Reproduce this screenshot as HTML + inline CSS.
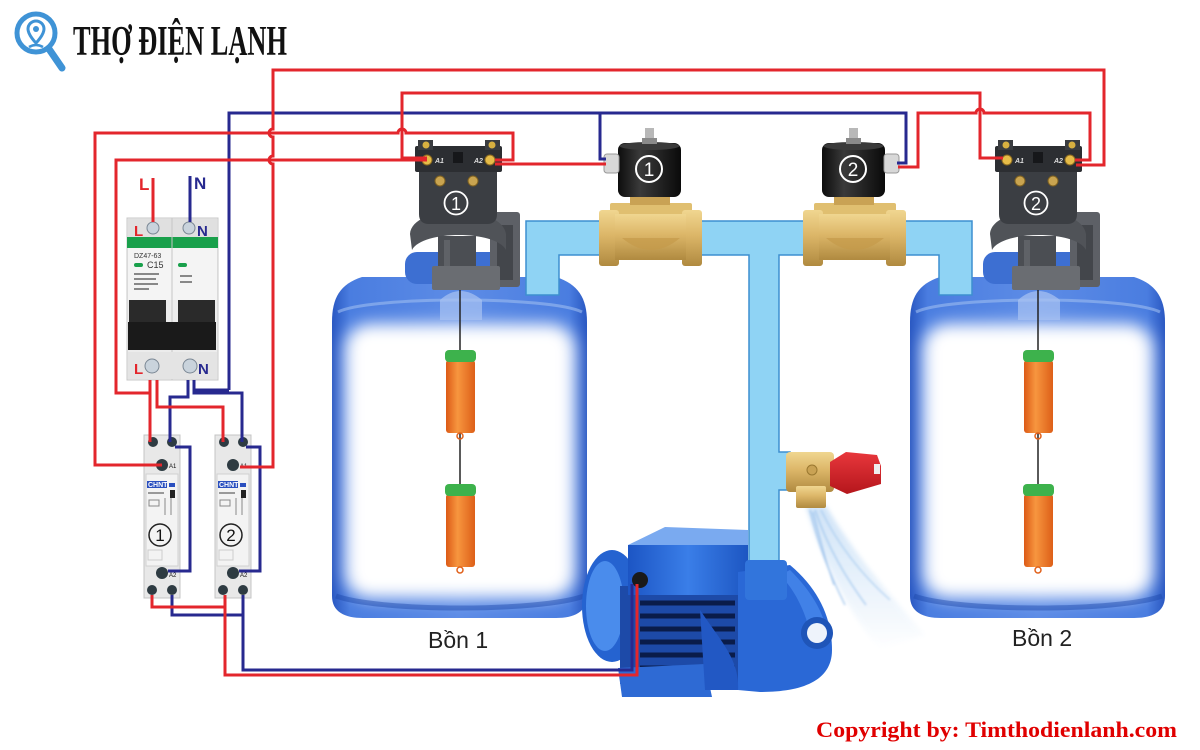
<!DOCTYPE html>
<html><head><meta charset="utf-8">
<style>
html,body{margin:0;padding:0;background:#fff;}
svg{display:block;}
</style></head><body>
<svg width="1200" height="750" viewBox="0 0 1200 750" xmlns="http://www.w3.org/2000/svg">
<defs>
 <filter id="blur8" x="-20%" y="-20%" width="140%" height="140%"><feGaussianBlur stdDeviation="8"/></filter>
 <filter id="blur3" x="-20%" y="-20%" width="140%" height="140%"><feGaussianBlur stdDeviation="2.5"/></filter>
 <filter id="blur1" x="-20%" y="-20%" width="140%" height="140%"><feGaussianBlur stdDeviation="1"/></filter>
 <linearGradient id="tankG" x1="0" x2="1" y1="0" y2="0">
   <stop offset="0" stop-color="#2a58c2"/>
   <stop offset="0.07" stop-color="#4a7de0"/>
   <stop offset="0.5" stop-color="#5d8ce6"/>
   <stop offset="0.93" stop-color="#4a7de0"/>
   <stop offset="1" stop-color="#2a58c2"/>
 </linearGradient>
 <linearGradient id="brass" x1="0" x2="0" y1="0" y2="1">
   <stop offset="0" stop-color="#f0d690"/>
   <stop offset="0.45" stop-color="#dcb668"/>
   <stop offset="1" stop-color="#b08a40"/>
 </linearGradient>
 <linearGradient id="orange" x1="0" x2="1">
   <stop offset="0" stop-color="#dc5a16"/><stop offset="0.4" stop-color="#f7963f"/><stop offset="1" stop-color="#dd5f18"/>
 </linearGradient>
 <linearGradient id="coilG" x1="0" x2="1">
   <stop offset="0" stop-color="#0d0d0d"/><stop offset="0.35" stop-color="#3a3a3a"/><stop offset="1" stop-color="#0a0a0a"/>
 </linearGradient>
 <linearGradient id="redCap" x1="0" x2="0" y1="0" y2="1">
   <stop offset="0" stop-color="#e8373c"/><stop offset="1" stop-color="#b5161c"/>
 </linearGradient>
 <linearGradient id="sprayG" x1="0" x2="0" y1="0" y2="1">
   <stop offset="0" stop-color="#bcd8f4"/><stop offset="1" stop-color="#ffffff"/>
 </linearGradient>
 <linearGradient id="pumpG" x1="0" x2="1" y1="0" y2="0">
   <stop offset="0" stop-color="#1c55c4"/><stop offset="0.5" stop-color="#3a7ee8"/><stop offset="1" stop-color="#1d56c2"/>
 </linearGradient>

 <g id="tank">
  <path d="M332,322 C332,298 340,284 362,277 L556,277 C578,284 587,298 587,322 L587,596 C587,612 574,618 556,618 L363,618 C345,618 332,612 332,596 Z" fill="url(#tankG)"/>
  <rect x="405" y="252" width="105" height="32" rx="12" fill="#3d6fd2"/>
  <path d="M338,312 C370,296 550,296 582,312" fill="none" stroke="#9dbcf0" stroke-width="3" opacity="0.6"/>
  <rect x="345" y="324" width="230" height="274" rx="25" fill="#fff" filter="url(#blur8)"/>
  <path d="M440,320 L440,300 Q460,282 482,300 L482,320 Z" fill="#a9c3f2" opacity="0.7"/>
  <path d="M336,596 C380,612 540,612 584,596" stroke="#1d46a8" stroke-width="5" fill="none" opacity="0.45"/>
  <line x1="460" y1="288" x2="460" y2="352" stroke="#222" stroke-width="1.5"/>
  <line x1="460" y1="432" x2="460" y2="486" stroke="#222" stroke-width="1.5"/>
  <rect x="446" y="360" width="29" height="73" rx="3" fill="url(#orange)"/>
  <rect x="445" y="350" width="31" height="12" rx="4" fill="#3db24c"/>
  <circle cx="460" cy="436" r="3" fill="none" stroke="#e0601a" stroke-width="1.5"/>
  <rect x="446" y="494" width="29" height="73" rx="3" fill="url(#orange)"/>
  <rect x="445" y="484" width="31" height="12" rx="4" fill="#3db24c"/>
  <circle cx="460" cy="570" r="3" fill="none" stroke="#e0601a" stroke-width="1.5"/>
 </g>

 <g id="psw">
  <rect x="490" y="212" width="30" height="75" rx="3" fill="#5d6066"/>
  <rect x="497" y="225" width="16" height="55" fill="#43464b"/>
  <path d="M410,234 C412,204 502,204 506,234 L506,250 C496,230 422,230 412,250 Z" fill="#505358"/>
  <rect x="438" y="236" width="38" height="36" fill="#4b4e53"/>
  <rect x="444" y="240" width="6" height="30" fill="#5f6267"/>
  <rect x="432" y="266" width="68" height="24" rx="2" fill="#6a6d72"/>
  <path d="M419,170 L497,170 L497,214 Q497,224 487,224 L429,224 Q419,224 419,214 Z" fill="#3b3e43"/>
  <rect x="415" y="146" width="87" height="26" rx="2" fill="#2c2e32"/>
  <rect x="418" y="140" width="15" height="10" fill="#3a3c40"/>
  <rect x="485" y="140" width="15" height="10" fill="#3a3c40"/>
  <circle cx="426" cy="145" r="3.5" fill="#d8b040"/>
  <circle cx="492" cy="145" r="3.5" fill="#d8b040"/>
  <circle cx="427" cy="160" r="5" fill="#e6bc48" stroke="#8a6a20"/>
  <circle cx="490" cy="160" r="5" fill="#e6bc48" stroke="#8a6a20"/>
  <rect x="453" y="152" width="10" height="11" fill="#16171a"/>
  <circle cx="440" cy="181" r="5" fill="#c9a450" stroke="#7d6020"/>
  <circle cx="473" cy="181" r="5" fill="#c9a450" stroke="#7d6020"/>
  <circle cx="456" cy="203" r="11.5" fill="none" stroke="#fff" stroke-width="1.8"/>
 </g>

 <g id="valve">
  <rect x="610" y="203" width="82" height="11" rx="2" fill="#e0bf70"/>
  <rect x="630" y="194" width="40" height="11" fill="#c9a254"/>
  <rect x="599" y="210" width="20" height="56" rx="3" fill="url(#brass)"/>
  <rect x="682" y="210" width="20" height="56" rx="3" fill="url(#brass)"/>
  <rect x="615" y="214" width="71" height="46" fill="url(#brass)"/>
  <path d="M622,238 Q651,262 680,238" fill="#c49a4a" opacity="0.7"/>
  <rect x="618" y="143" width="63" height="54" rx="7" fill="url(#coilG)"/>
  <ellipse cx="649.5" cy="146" rx="30" ry="4" fill="#3a3a3a"/>
  <rect x="645" y="128" width="9" height="16" fill="#b8b8b8"/>
  <rect x="642" y="138" width="15" height="6" fill="#8a8a8a"/>
  <circle cx="649" cy="169" r="13" fill="none" stroke="#fff" stroke-width="2"/>
 </g>

 <g id="contactor">
  <rect x="144" y="435" width="36" height="163" fill="#e8e8e8" stroke="#c4c4c4"/>
  <rect x="146" y="474" width="32" height="92" fill="#f3f3f3" stroke="#d0d0d0"/>
  <circle cx="153" cy="442" r="5" fill="#2e3b42"/>
  <circle cx="172" cy="442" r="5" fill="#2e3b42"/>
  <circle cx="162" cy="465" r="6" fill="#2e3b42"/>
  <rect x="147" y="481" width="20" height="7" fill="#2a4fbf"/>
  <rect x="169" y="483" width="6" height="4" fill="#2a4fbf"/>
  <rect x="148" y="492" width="16" height="2" fill="#999"/>
  <rect x="170" y="490" width="5" height="8" fill="#222"/>
  <rect x="149" y="500" width="10" height="6" fill="none" stroke="#888"/>
  <line x1="165" y1="498" x2="165" y2="515" stroke="#888"/>
  <line x1="171" y1="498" x2="171" y2="515" stroke="#888"/>
  <rect x="148" y="550" width="14" height="10" fill="none" stroke="#ccc"/>
  <circle cx="162" cy="573" r="6" fill="#2e3b42"/>
  <circle cx="152" cy="590" r="5" fill="#2e3b42"/>
  <circle cx="172" cy="590" r="5" fill="#2e3b42"/>
 </g>
</defs>

<!-- Logo -->
<g fill="none" stroke="#3f93d6">
 <circle cx="36" cy="33" r="19" stroke-width="5"/>
 <line x1="49" y1="49" x2="62" y2="68" stroke-width="7" stroke-linecap="round"/>
 <path d="M36,21 a8,8 0 0 1 8,8 c0,6 -8,14 -8,14 c0,0 -8,-8 -8,-14 a8,8 0 0 1 8,-8z" stroke-width="3"/>
 <path d="M29,47 q7,-4 14,0" stroke-width="2.5"/>
</g>
<circle cx="36" cy="29" r="3" fill="#3f93d6"/>
<text x="73" y="55" font-family="Liberation Serif, serif" font-weight="bold" font-size="42" fill="#111" textLength="214" lengthAdjust="spacingAndGlyphs">THỢ ĐIỆN LẠNH</text>

<!-- Tanks -->
<use href="#tank"/>
<use href="#tank" transform="translate(578,0)"/>

<!-- Pipes -->
<path d="M526,295 L526,221 L972,221 L972,295 L939,295 L939,255 L779,255 L779,452 L790,452 L790,490 L779,490 L779,572 L749,572 L749,255 L559,255 L559,295 Z" fill="#8fd3f4" stroke="#3d8fd0" stroke-width="1.5"/>

<!-- Pressure switches -->
<use href="#psw"/>
<use href="#psw" transform="translate(580,0)"/>
<text x="456" y="210" font-family="Liberation Sans, sans-serif" font-size="18" fill="#fff" text-anchor="middle">1</text>
<text x="1036" y="210" font-family="Liberation Sans, sans-serif" font-size="18" fill="#fff" text-anchor="middle">2</text>
<g font-family="Liberation Sans, sans-serif" font-size="7" font-style="italic" font-weight="bold" fill="#ddd">
 <text x="435" y="163">A1</text><text x="474" y="163">A2</text>
 <text x="1015" y="163">A1</text><text x="1054" y="163">A2</text>
</g>

<!-- Solenoid valves -->
<use href="#valve"/>
<use href="#valve" transform="translate(204,0)"/>
<rect x="604" y="154" width="15" height="19" rx="3" fill="#d8d8d8" stroke="#999"/>
<rect x="884" y="154" width="15" height="19" rx="3" fill="#d8d8d8" stroke="#999"/>
<text x="649" y="176" font-family="Liberation Sans, sans-serif" font-size="19" fill="#fff" text-anchor="middle">1</text>
<text x="853" y="176" font-family="Liberation Sans, sans-serif" font-size="19" fill="#fff" text-anchor="middle">2</text>

<!-- Relief valve + spray -->
<g filter="url(#blur3)" opacity="0.7">
 <path d="M806,506 L826,506 C855,555 890,595 925,635 L880,650 C850,615 822,560 806,506 Z" fill="url(#sprayG)"/>
</g>
<g filter="url(#blur1)" opacity="0.6" fill="none">
 <path d="M810,510 C818,545 830,575 845,605" stroke="#7fb0e6" stroke-width="1.5"/>
 <path d="M815,510 C828,548 846,578 866,605" stroke="#8cbaea" stroke-width="1.5"/>
 <path d="M821,510 C838,545 862,575 890,600" stroke="#9cc4ee" stroke-width="1.5"/>
 <path d="M813,512 C820,540 826,562 834,585" stroke="#6aa2e0" stroke-width="1.2"/>
</g>
<rect x="786" y="452" width="48" height="40" rx="4" fill="url(#brass)"/>
<rect x="796" y="486" width="30" height="22" rx="2" fill="url(#brass)"/>
<circle cx="812" cy="470" r="5" fill="#c9a254" stroke="#9a7830"/>
<path d="M830,462 L846,452 L877,455 L881,466 L881,484 L847,494 L830,486 Z" fill="url(#redCap)"/>
<rect x="874" y="464" width="6" height="10" fill="#eee"/>

<!-- Pump -->
<ellipse cx="612" cy="606" rx="30" ry="56" fill="#2563d0"/>
<ellipse cx="605" cy="606" rx="19" ry="45" fill="#4a8cec"/>
<rect x="620" y="586" width="120" height="98" fill="#1d4aa8"/>
<g stroke="#0a1c4a" stroke-width="5">
 <line x1="640" y1="603" x2="735" y2="603"/><line x1="640" y1="616" x2="735" y2="616"/>
 <line x1="640" y1="629" x2="735" y2="629"/><line x1="640" y1="642" x2="735" y2="642"/>
 <line x1="640" y1="655" x2="735" y2="655"/><line x1="640" y1="668" x2="735" y2="668"/>
</g>
<path d="M618,668 L705,664 L712,697 L622,697 Z" fill="#2e6ad4"/>
<path d="M628,545 L665,527 L748,530 L748,548 Z" fill="#7aaaf0"/>
<rect x="628" y="545" width="120" height="50" fill="url(#pumpG)"/>
<path d="M738,572 L790,565 C820,590 832,620 832,650 C832,682 800,692 760,692 L738,690 Z" fill="#2a68d6"/>
<path d="M790,570 C812,592 826,615 828,640 L812,640 C806,612 795,590 780,575 Z" fill="#4b8cee" opacity="0.7"/>
<path d="M700,610 C720,640 740,660 738,690 L705,690 Z" fill="#2258c4"/>
<rect x="745" y="560" width="42" height="40" rx="4" fill="#3275dc"/>
<circle cx="817" cy="633" r="16" fill="#1f55b8"/>
<circle cx="817" cy="633" r="10" fill="#eef3fb"/>
<circle cx="640" cy="580" r="8" fill="#1a1a1a"/>

<!-- Breaker -->
<rect x="127" y="218" width="91" height="162" fill="#ececec" stroke="#c8c8c8"/>
<rect x="128" y="219" width="89" height="18" fill="#e0e0e0"/>
<rect x="127" y="237" width="91" height="11" fill="#19a04b"/>
<rect x="128" y="248" width="89" height="52" fill="#f4f4f4"/>
<line x1="172" y1="218" x2="172" y2="380" stroke="#c6c6c6"/>
<text x="134" y="258" font-family="Liberation Sans, sans-serif" font-size="7" fill="#333">DZ47-63</text>
<rect x="134" y="263" width="9" height="4" rx="2" fill="#19a04b"/>
<text x="147" y="268" font-family="Liberation Sans, sans-serif" font-size="9" fill="#333">C15</text>
<rect x="178" y="263" width="9" height="4" rx="2" fill="#19a04b"/>
<g fill="#888"><rect x="134" y="273" width="25" height="2"/><rect x="134" y="278" width="22" height="2"/><rect x="134" y="283" width="24" height="2"/><rect x="134" y="288" width="15" height="2"/><rect x="180" y="275" width="12" height="2"/><rect x="180" y="281" width="12" height="2"/></g>
<rect x="129" y="300" width="37" height="25" fill="#2a2a2a"/>
<rect x="178" y="300" width="37" height="25" fill="#2a2a2a"/>
<path d="M128,322 L216,322 L216,350 L128,350 Z" fill="#1a1a1a"/>
<rect x="128" y="352" width="89" height="27" fill="#e4e4e4"/>
<circle cx="153" cy="228" r="6" fill="#c9d3dc" stroke="#7a8794"/>
<circle cx="189" cy="228" r="6" fill="#c9d3dc" stroke="#7a8794"/>
<circle cx="152" cy="366" r="7" fill="#c9d3dc" stroke="#7a8794"/>
<circle cx="190" cy="366" r="7" fill="#c9d3dc" stroke="#7a8794"/>
<g font-family="Liberation Sans, sans-serif" font-weight="bold">
 <text x="139" y="190" font-size="17" fill="#e3262c">L</text>
 <text x="194" y="189" font-size="17" fill="#27298f">N</text>
 <text x="134" y="236" font-size="15" fill="#e3262c">L</text>
 <text x="197" y="236" font-size="15" fill="#27298f">N</text>
 <text x="134" y="374" font-size="15" fill="#e3262c">L</text>
 <text x="198" y="374" font-size="15" fill="#27298f">N</text>
</g>

<!-- Contactors -->
<use href="#contactor"/>
<use href="#contactor" transform="translate(71,0)"/>
<g font-family="Liberation Sans, sans-serif" fill="#111">
 <text x="169" y="468" font-size="6">A1</text><text x="240" y="468" font-size="6">A1</text>
 <text x="169" y="577" font-size="6">A2</text><text x="240" y="577" font-size="6">A2</text>
 <text x="160" y="541" font-size="17" text-anchor="middle">1</text>
 <text x="231" y="541" font-size="17" text-anchor="middle">2</text>
</g>
<circle cx="160" cy="535" r="11" fill="none" stroke="#222" stroke-width="1.5"/>
<circle cx="231" cy="535" r="11" fill="none" stroke="#222" stroke-width="1.5"/>
<g font-family="Liberation Sans, sans-serif" font-weight="bold" font-size="7" fill="#fff">
 <text x="148" y="487">CHNT</text><text x="219" y="487">CHNT</text>
</g>

<!-- Wires -->
<g fill="none" stroke-width="3" stroke-linejoin="miter">
 <g stroke="#27298f">
  <path d="M190,176 L190,222"/>
  <path d="M229,390 L229,113 L906,113 L906,163 L897,163"/>
  <path d="M600,113 L600,159 L606,159"/>
  <path d="M229,390 L194,390 L194,380"/>
  <path d="M188,380 L188,397 L170,397 L170,442"/>
  <path d="M194,385 L194,393 L242,393 L242,442"/>
  <path d="M168,571 L190,571 L190,447 L175,447"/>
  <path d="M239,571 L260,571 L260,447 L246,447"/>
  <path d="M172,595 L172,615 L243,615 L243,595"/>
  <path d="M243,600 L243,670 L632,670 L632,584"/>
 </g>
 <g stroke="#e3262c">
  <path d="M153,178 L153,222"/>
  <path d="M240,467 L273,467 L273,164 A4,4 0 0 1 273,156 L273,137 A4,4 0 0 1 273,129 L273,70 L1104,70 L1104,165 L1076,165"/>
  <path d="M427,158 L402,158 L402,93 L980,93 L980,158 L1003,158"/>
  <path d="M162,465 L95,465 L95,133 L398,133 A4,4 0 0 1 406,133 L513,133 L513,160 L495,160"/>
  <path d="M150,393 L116,393 L116,160 L427,160"/>
  <path d="M495,164 L606,164"/>
  <path d="M898,167 L918,167 L918,113 L976,113 A4,4 0 0 1 984,113 L1090,113 L1090,160 L1075,160"/>
  <path d="M150,380 L150,442"/>
  <path d="M157,380 L157,407 L223,407 L223,442"/>
  <path d="M152,595 L152,607 L225,607 L225,595"/>
  <path d="M225,600 L225,675 L637,675 L637,584"/>
 </g>
</g>

<!-- Labels -->
<text x="428" y="648" font-family="Liberation Sans, sans-serif" font-size="23" fill="#222">Bồn 1</text>
<text x="1012" y="646" font-family="Liberation Sans, sans-serif" font-size="23" fill="#222">Bồn 2</text>
<text x="816" y="737" font-family="Liberation Serif, serif" font-weight="bold" font-size="22" fill="#e00000" textLength="361" lengthAdjust="spacingAndGlyphs">Copyright by: Timthodienlanh.com</text>
</svg>
</body></html>
